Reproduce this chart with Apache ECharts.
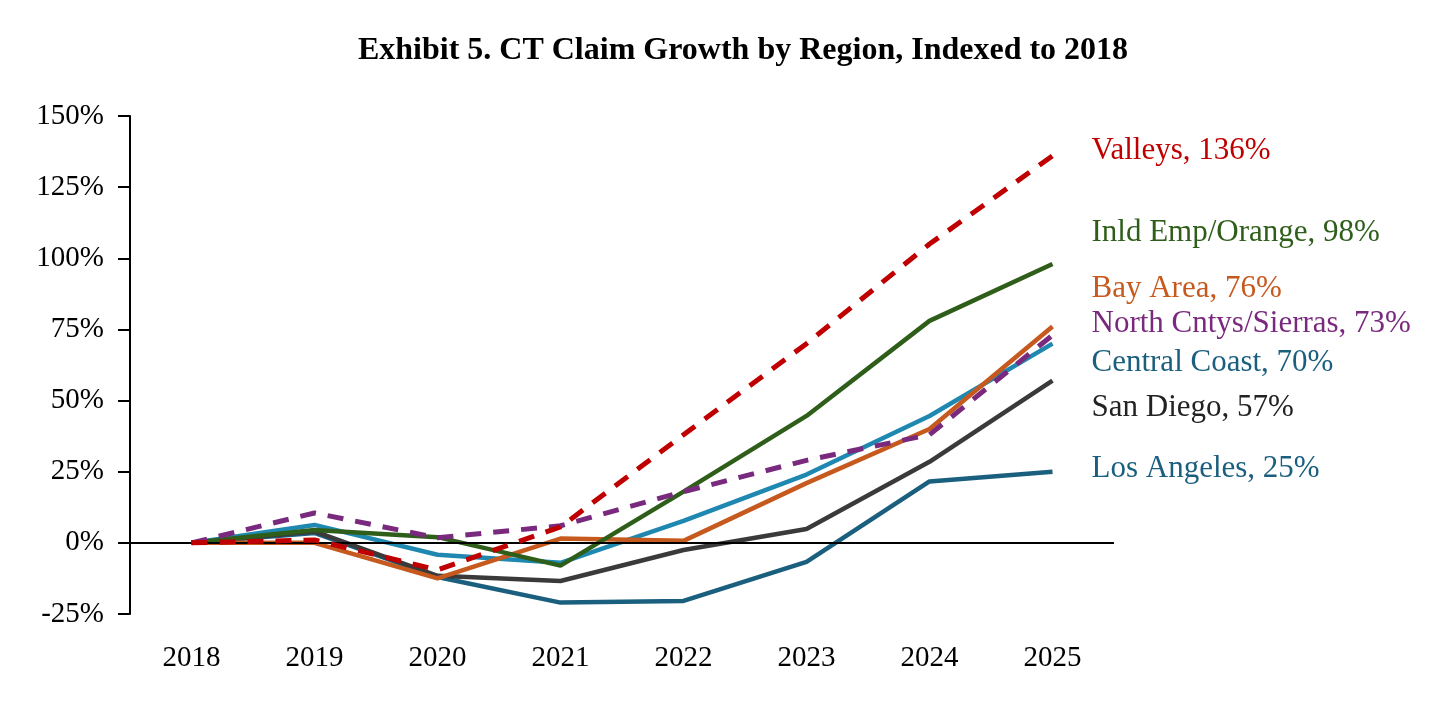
<!DOCTYPE html><html><head><meta charset="utf-8">
<script src="https://cdn.jsdelivr.net/npm/echarts@6/dist/echarts.min.js"></script>
<style>html,body{margin:0;background:#fff}#c{width:1456px;height:703px}</style></head><body><div id="c"></div>
<script>
const years=['2018','2019','2020','2021','2022','2023','2024','2025'];
const valleys=[0,1,-9.5,5.6,38,70,105,136];
const inldEmp=[0,4.5,2,-8,18,44.6,78,98];
const bayArea=[0,0,-12.5,1.5,0.7,21,40,76];
const northCntys=[0,10.5,1.8,6,18,29,38,73];
const centralCoast=[0,6.3,-4.2,-7,7.7,24,44.6,70];
const sanDiego=[0,4,-11.6,-13.4,-2.5,4.9,28.5,57];
const losAngeles=[0,3.5,-12,-21,-20.4,-6.7,21.6,25];
const yTicks=[-25,0,25,50,75,100,125,150];
function s(name,data,color,dash,labelColor,dy){
 return {name,type:'line',data,symbol:'none',lineStyle:{color,width:dash?5:4.5,type:dash?[16,12]:'solid'},
  endLabel:{show:true,formatter:name+', '+data[data.length-1]+'%',color:labelColor||color,fontFamily:'Liberation Serif',fontSize:31,offset:[31,dy],align:'left'},z:dash?5:3};
}
const series=[
 s('Los Angeles',losAngeles,'#1b5f7f',false,'#1b5f7f',-3),
 s('San Diego',sanDiego,'#3a3a3a',false,'#222',27),
 s('Central Coast',centralCoast,'#1f88b0',false,'#1b5f7f',19),
 s('Bay Area',bayArea,'#c65a1e',false,null,-38),
 s('Inld Emp/Orange',inldEmp,'#2e5e1a',false,null,-31),
 s('North Cntys/Sierras',northCntys,'#7a2a7e',true,null,-11),
 s('Valleys',valleys,'#c00000',true,null,-5)
];
series[0].markLine={silent:true,symbol:'none',label:{show:false},lineStyle:{color:'#000',width:2,type:'solid'},data:[{yAxis:0}]};
const ch=echarts.init(document.getElementById('c'));
ch.setOption({animation:false,
 title:{text:'Exhibit 5. CT Claim Growth by Region, Indexed to 2018',left:738,top:30,textAlign:'center',textStyle:{fontFamily:'Liberation Serif',fontWeight:'bold',fontSize:32,color:'#000'}},
 grid:{left:130,right:342,top:116,bottom:89},
 xAxis:{type:'category',data:years,boundaryGap:true,axisLine:{show:false},axisTick:{show:false},
  axisLabel:{fontFamily:'Liberation Serif',fontSize:29,color:'#000',margin:30}},
 yAxis:{type:'value',min:-25,max:150,interval:25,splitLine:{show:false},
  axisLine:{show:true,lineStyle:{color:'#000',width:2}},axisTick:{show:true,length:12,lineStyle:{color:'#000',width:2}},
  axisLabel:{fontFamily:'Liberation Serif',fontSize:29,color:'#000',margin:26,formatter:v=>yTicks.includes(v)?v+'%':''}},
 series});
</script></body></html>
